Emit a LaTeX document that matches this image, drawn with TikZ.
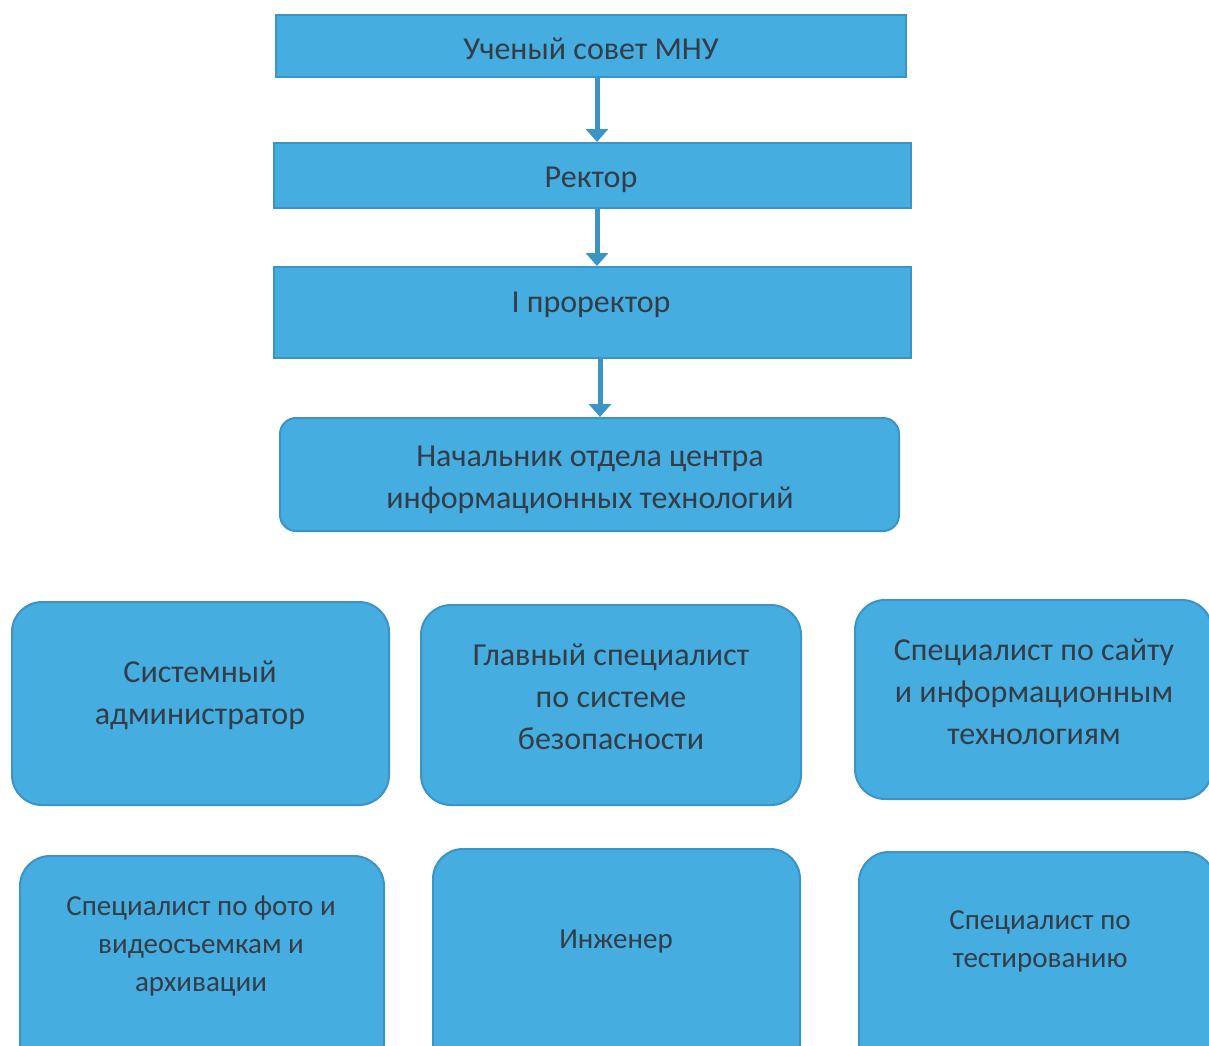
\documentclass[tikz,border=0pt]{standalone}
\usepackage{fontspec}
\setmainfont{Carlito}
\usetikzlibrary{arrows.meta}
\definecolor{boxfill}{HTML}{46ADE0}
\definecolor{boxline}{HTML}{3B93C6}
\definecolor{txt}{HTML}{333D47}
\begin{document}
\begin{tikzpicture}[x=1pt,y=-1pt,
  sq/.style={draw=boxline, fill=boxfill, line width=2pt, inner sep=0pt},
  rnd/.style={draw=boxline, fill=boxfill, line width=2pt, inner sep=0pt, rounded corners=30pt},
  rndsm/.style={rnd, rounded corners=16pt},
  lbl/.style={text=txt, align=center, inner sep=0pt, font=\fontsize{32}{42}\selectfont},
  lbls/.style={text=txt, align=center, inner sep=0pt, font=\fontsize{29}{38}\selectfont},
  arr/.style={draw=boxline, line width=5pt, -{Triangle[width=22pt,length=13pt]}}]
\useasboundingbox (0,0) rectangle (1209,1045);
\clip (0,0) rectangle (1209,1045);
\fill[white] (0,0) rectangle (1209,1045);
% top chain
\node[sq, minimum width=630pt, minimum height=62pt] (b1) at (591,46) {};
\node[sq, minimum width=637pt, minimum height=65pt] (b2) at (592.5,175.5) {};
\node[sq, minimum width=637pt, minimum height=91pt] (b3) at (592.5,312.5) {};
\node[rndsm, minimum width=619pt, minimum height=113pt] (b4) at (589.5,474.5) {};
\node[lbl] (t1) at (591,49) {Ученый совет МНУ};
\node[lbl] (t2) at (591,180) {Ректор};
\node[lbl] (t3) at (591,305) {I проректор};
\node[lbl] (t4) at (590,480) {Начальник отдела центра\\информационных технологий};
\draw[arr] ([xshift=6pt]b1.south) -- ([xshift=4.5pt]b2.north);
\draw[arr] ([xshift=4.5pt]b2.south) -- ([xshift=4.5pt]b3.north);
\draw[arr] ([xshift=7.5pt]b3.south) -- ([xshift=10.5pt]b4.north);
% first row
\node[rnd, minimum width=377pt, minimum height=203pt] (r1a) at (200.5,703.5) {};
\node[rnd, minimum width=380pt, minimum height=200pt] (r1b) at (611,705) {};
\node[rnd, minimum width=357pt, minimum height=199pt] (r1c) at (1033.5,699.5) {};
\node[lbl] (s1a) at (200,695) {Системный\\администратор};
\node[lbl] (s1b) at (611,697) {Главный специалист\\по системе\\безопасности};
\node[lbl] (s1c) at (1034,692) {Специалист по сайту\\и информационным\\технологиям};
% second row
\node[rnd, minimum width=364pt, minimum height=219pt] (r2a) at (202,965.5) {};
\node[rnd, minimum width=367pt, minimum height=226pt] (r2b) at (616.5,962) {};
\node[rnd, minimum width=356pt, minimum height=223pt] (r2c) at (1037,963.5) {};
\node[lbls] (s2a) at (201,946) {Специалист по фото и\\видеосъемкам и\\архивации};
\node[lbls] (s2b) at (616,942) {Инженер};
\node[lbls] (s2c) at (1040,941) {Специалист по\\тестированию};
\end{tikzpicture}
\end{document}
